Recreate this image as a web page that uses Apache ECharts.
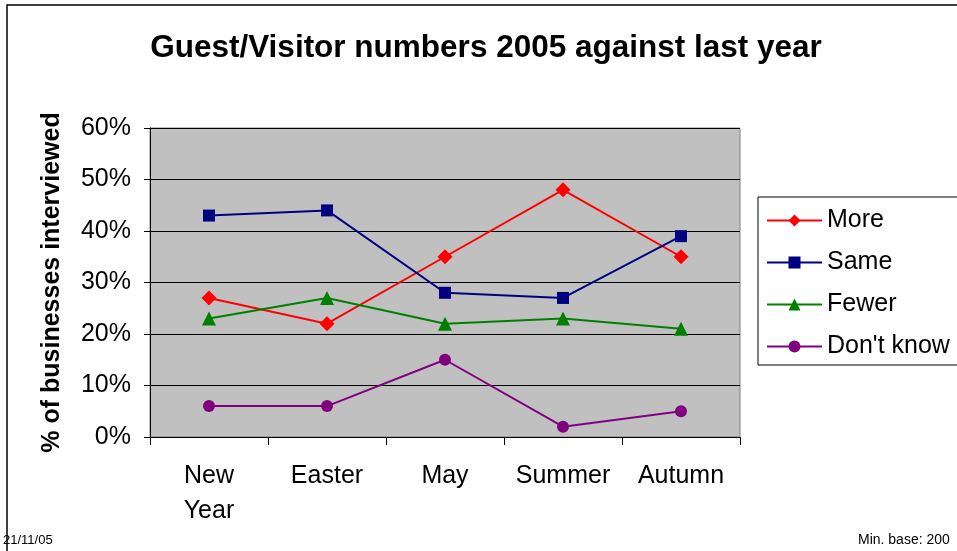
<!DOCTYPE html>
<html><head><meta charset="utf-8">
<script src="https://cdn.jsdelivr.net/npm/echarts@6/dist/echarts.min.js"></script>
<style>html,body{margin:0;padding:0;background:#fff}#c{width:957px;height:551px}</style>
</head><body><div id="c"></div>
<script>
const categories = ['New\nYear', 'Easter', 'May', 'Summer', 'Autumn'];
const moreVals = [27, 22, 35, 48, 35];
const sameVals = [43, 44, 28, 27, 39];
const fewerVals = [23, 27, 22, 23, 21];
const dontKnowVals = [6, 6, 15, 2, 5];
const yTicks = [0, 10, 20, 30, 40, 50, 60];

const FONT = '"Liberation Sans", Arial, sans-serif';
const chart = echarts.init(document.getElementById('c'));
function mk(name, data, color, symbol, size) {
  return {
    name, type: 'line', data, symbol, symbolSize: size,
    lineStyle: { color, width: 2 }, itemStyle: { color },
    emphasis: { disabled: true }, animation: false
  };
}
chart.setOption({
  animation: false,
  textStyle: { fontFamily: FONT },
  title: {
    text: 'Guest/Visitor numbers 2005 against last year',
    left: 481, top: 27, textAlign: 'center',
    textStyle: { fontFamily: FONT, fontSize: 31.5, fontWeight: 'bold', color: '#000' }
  },
  graphic: [
    { type: 'rect', shape: { x: 7, y: 5, width: 960, height: 560 }, style: { fill: 'none', stroke: '#000', lineWidth: 1.5 }, silent: true, z: -10 },
    { type: 'text', left: 3, top: 534, style: { text: '21/11/05', font: '13px ' + FONT, fill: '#000' } },
    { type: 'text', left: 858, top: 533, style: { text: 'Min. base: 200', font: '14px ' + FONT, fill: '#000' } }
  ],
  grid: { left: 150, top: 128, width: 590, height: 309, show: true, backgroundColor: '#C0C0C0', borderColor: '#808080', borderWidth: 1 },
  legend: {
    orient: 'vertical', left: 758, top: 197,
    padding: [11, 30, 6, 8], itemGap: 17, itemWidth: 55, itemHeight: 15,
    borderColor: '#000', borderWidth: 1, backgroundColor: '#fff',
    textStyle: { fontFamily: FONT, fontSize: 25, color: '#000', padding: [0, 0, 0, 0] },
    data: ['More', 'Same', 'Fewer', "Don't know"]
  },
  xAxis: {
    type: 'category', data: categories, boundaryGap: true,
    axisLine: { lineStyle: { color: '#000', width: 1 } },
    axisTick: { show: true, length: 8, interval: 0, lineStyle: { color: '#000' } },
    axisLabel: { fontFamily: FONT, fontSize: 25, color: '#000', margin: 22, lineHeight: 35, interval: 0, hideOverlap: false },
    splitLine: { show: false }
  },
  yAxis: {
    type: 'value', min: 0, max: 60, interval: 10,
    name: '% of businesses interviewed', nameLocation: 'middle', nameGap: 85, nameRotate: 90,
    nameTextStyle: { fontFamily: FONT, fontSize: 25, fontWeight: 'bold', color: '#000' },
    axisLine: { show: true, lineStyle: { color: '#000' } },
    axisTick: { show: true, length: 6, inside: false, lineStyle: { color: '#000' } },
    axisLabel: { fontFamily: FONT, fontSize: 25, color: '#000', margin: 19, formatter: v => yTicks.includes(v) ? v + '%' : '' },
    splitLine: { show: true, lineStyle: { color: '#000', width: 1 } }
  },
  series: [
    mk('More', moreVals, '#FF0000', 'diamond', 15),
    mk('Same', sameVals, '#000080', 'rect', 12),
    mk('Fewer', fewerVals, '#008000', 'triangle', 14),
    mk("Don't know", dontKnowVals, '#800080', 'circle', 12)
  ]
});
</script></body></html>
